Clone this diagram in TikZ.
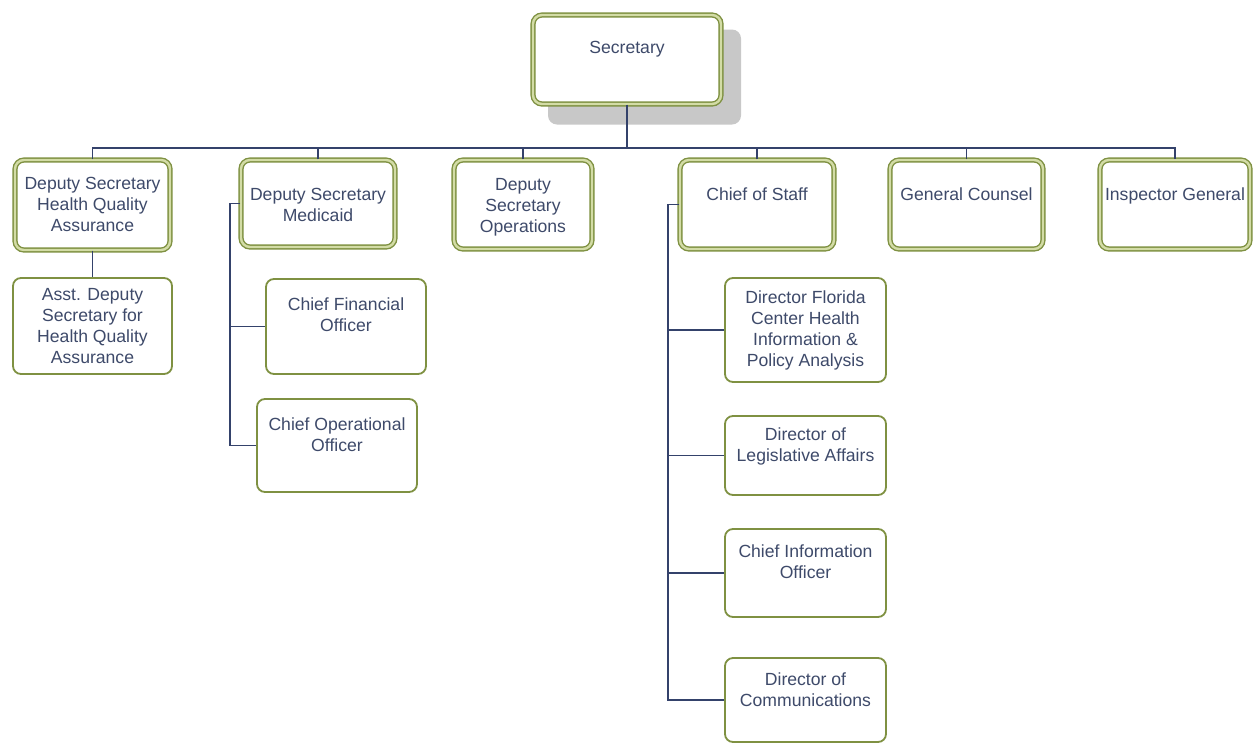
\documentclass[tikz,border=0pt]{standalone}
\usepackage{fontspec}
\setmainfont{Liberation Sans}
\definecolor{boxline}{HTML}{7F9142}
\definecolor{boxdbl}{HTML}{D3DCA6}
\definecolor{txtcol}{HTML}{3E4A6A}
\definecolor{conn}{HTML}{34426B}
\definecolor{shadowcol}{HTML}{C8C8C8}
\newcommand{\orgtxt}[1]{\begin{tabular}[t]{@{}c@{}}#1\end{tabular}}
\tikzset{
  lvlbox/.style={draw=boxline, line width=1.4pt, double=boxdbl, double distance=2.4pt,
    rounded corners=9pt, fill=white, inner sep=0pt},
  subbox/.style={draw=boxline, line width=1.8pt, rounded corners=8pt, fill=white, inner sep=0pt},
  shadowbox/.style={fill=shadowcol, rounded corners=9pt, inner sep=0pt},
  lbl/.style={anchor=base, inner sep=0pt, text=txtcol,
    font=\fontsize{17.6}{21.3}\selectfont},
  link/.style={draw=conn, line width=1.3pt},
}
\begin{document}
\begin{tikzpicture}[x=1pt,y=-1pt]
\useasboundingbox[fill=white] (0,0) rectangle (1257,745);
% shadow and top box
\node[shadowbox, minimum width=193, minimum height=95] (secshadow) at (644.5,77) {};
\node[lvlbox, minimum width=188, minimum height=89] (sec) at (627,59.5) {};
\node[lbl] (sect) at (627,53) {\orgtxt{Secretary}};
% level 1
\node[lvlbox, minimum width=155, minimum height=90] (dhqa) at (92.5,205) {};
\node[lvlbox, minimum width=154, minimum height=87] (dsm) at (318,203.5) {};
\node[lvlbox, minimum width=138, minimum height=89] (dso) at (523,204.5) {};
\node[lvlbox, minimum width=154, minimum height=89] (cos) at (757,204.5) {};
\node[lvlbox, minimum width=153, minimum height=89] (gc) at (966.5,204.5) {};
\node[lvlbox, minimum width=150, minimum height=89] (ig) at (1175,204.5) {};
\node[lbl] (dhqat) at (92.5,189) {\orgtxt{Deputy Secretary\\Health Quality\\Assurance}};
\node[lbl] (dsmt) at (318,200) {\orgtxt{Deputy Secretary\\Medicaid}};
\node[lbl] (dsot) at (523,190) {\orgtxt{Deputy\\Secretary\\Operations}};
\node[lbl] (cost) at (757,200) {\orgtxt{Chief of Staff}};
\node[lbl] (gct) at (966.5,200) {\orgtxt{General Counsel}};
\node[lbl] (igt) at (1175,200) {\orgtxt{Inspector General}};
% level 2
\node[subbox, minimum width=159, minimum height=96] (asst) at (92.5,326) {};
\node[subbox, minimum width=160, minimum height=95] (cfo) at (346,326.5) {};
\node[subbox, minimum width=160, minimum height=93] (coo) at (337,445.5) {};
\node[subbox, minimum width=161, minimum height=104] (dfl) at (805.5,330) {};
\node[subbox, minimum width=161, minimum height=79] (dla) at (805.5,455.5) {};
\node[subbox, minimum width=161, minimum height=88] (cio) at (805.5,573) {};
\node[subbox, minimum width=161, minimum height=84] (dcm) at (805.5,700) {};
\node[lbl] (asstt) at (92.5,300) {\orgtxt{Asst. Deputy\\Secretary for\\Health Quality\\Assurance}};
\node[lbl] (cfot) at (346,310) {\orgtxt{Chief Financial\\Officer}};
\node[lbl] (coot) at (337,430) {\orgtxt{Chief Operational\\Officer}};
\node[lbl] (dflt) at (805.5,303) {\orgtxt{Director Florida\\Center Health\\Information \&\\Policy Analysis}};
\node[lbl] (dlat) at (805.5,440) {\orgtxt{Director of\\Legislative Affairs}};
\node[lbl] (ciot) at (805.5,557) {\orgtxt{Chief Information\\Officer}};
\node[lbl] (dcmt) at (805.5,685) {\orgtxt{Director of\\Communications}};
% connectors
\coordinate (bus) at (627,148);
\coordinate (mline) at (230,0);
\coordinate (cline) at (668,0);
\draw[link] (sec.south) -- (bus);
\draw[link] (dhqa.north) |- (bus) -| (ig.north);
\draw[link] (dsm.north) -- (dsm.north |- bus);
\draw[link] (dso.north) -- (dso.north |- bus);
\draw[link] (cos.north) -- (cos.north |- bus);
\draw[link] (gc.north) -- (gc.north |- bus);
\draw[link] (dhqa.south) -- (asst.north);
\draw[link] (dsm.west) -| (mline |- coo.west) -- (coo.west);
\draw[link] (mline |- cfo.west) -- (cfo.west);
\draw[link] (cos.west) -| (cline |- dcm.west) -- (dcm.west);
\draw[link] (cline |- dfl.west) -- (dfl.west);
\draw[link] (cline |- dla.west) -- (dla.west);
\draw[link] (cline |- cio.west) -- (cio.west);
\end{tikzpicture}
\end{document}
